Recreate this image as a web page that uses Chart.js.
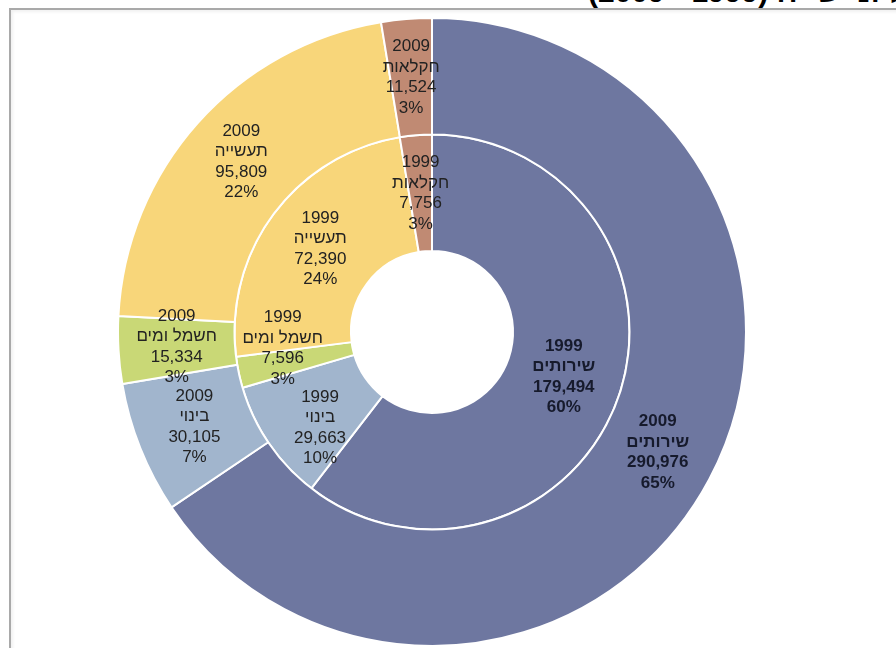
<!DOCTYPE html>
<html lang="he">
<head>
<meta charset="utf-8">
<script src="https://cdn.jsdelivr.net/npm/chart.js@4.4.1/dist/chart.umd.min.js"></script>
<style>
  html, body { margin: 0; padding: 0; width: 896px; height: 648px; overflow: hidden; background: #fff; }
  .title {
    position: absolute; left: 588px; top: -23px; width: 1200px;
    font: bold 30px "Liberation Sans", Arial, sans-serif; line-height: 30px;
    color: #000; white-space: nowrap; text-align: left;
  }
  .frame {
    position: absolute; left: 9px; top: 8px; width: 1000px; height: 1000px;
    border-top: 2px solid #a9a9a9; border-left: 2px solid #a9a9a9;
    box-shadow: inset 2px 2px 3px rgba(0,0,0,0.06);
  }
  #chart { position: absolute; left: 117px; top: 17px; }
</style>
</head>
<body>
<div class="title" dir="rtl">התוצר לפי ענף כלכלי, במיליוני ש״ח (1999 - 2009)</div>
<div class="frame"></div>
<canvas id="chart" width="630" height="630"></canvas>
<script>
/* ---------------------------------------------------------------- *
 * Data: output by sector, 2009 (outer ring) and 1999 (inner ring)
 * ---------------------------------------------------------------- */
const SECTORS = ["שירותים", "בינוי", "חשמל ומים", "תעשייה", "חקלאות"];
const YEARS = ["2009", "1999"];
const VALUES_2009 = [290976, 30105, 15334, 95809, 11524];
const VALUES_1999 = [179494, 29663, 7596, 72390, 7756];
const PCT_2009 = ["65%", "7%", "3%", "22%", "3%"];
const PCT_1999 = ["60%", "10%", "3%", "24%", "3%"];

const COLORS = ["#6e77a0", "#a1b5cd", "#c9d876", "#f8d67a", "#c08a73"];

// Small label nudges (px) for the thin inner slices where the centroid crowds
const NUDGE = { "1-1": [3, 17], "1-2": [-13, -12] };

const FONT = '"Liberation Sans", Arial, sans-serif';

const ringLabels = {
  id: "ringLabels",
  afterDatasetsDraw(chart) {
    const { ctx } = chart;
    const pcts = [PCT_2009, PCT_1999];
    ctx.save();
    ctx.textAlign = "center";
    ctx.textBaseline = "middle";
    chart.data.datasets.forEach((ds, di) => {
      const meta = chart.getDatasetMeta(di);
      meta.data.forEach((arc, i) => {
        const p = arc.tooltipPosition(true);
        const n = NUDGE[di + "-" + i] || [0, 0];
        const x = p.x + n[0], y = p.y + n[1];
        const bold = i === 0;
        ctx.font = (bold ? "bold " : "") + "17px " + FONT;
        ctx.fillStyle = bold ? "#161a2c" : "#222222";
        const lines = [
          YEARS[di],
          SECTORS[i],
          ds.data[i].toLocaleString("en-US"),
          pcts[di][i],
        ];
        const lh = 20.5;
        lines.forEach((t, k) => {
          ctx.fillText(t, x, y + (k - 1.5) * lh);
        });
      });
    });
    ctx.restore();
  },
};

new Chart(document.getElementById("chart"), {
  type: "doughnut",
  data: {
    labels: SECTORS,
    datasets: [
      { label: YEARS[0], data: VALUES_2009, backgroundColor: COLORS,
        borderColor: "#ffffff", borderWidth: 2 },
      { label: YEARS[1], data: VALUES_1999, backgroundColor: COLORS,
        borderColor: "#ffffff", borderWidth: 2 },
    ],
  },
  options: {
    responsive: false,
    animation: false,
    cutout: "25.8%",
    layout: { padding: 0 },
    plugins: { legend: { display: false }, tooltip: { enabled: false } },
  },
  plugins: [ringLabels],
});
</script>
</body>
</html>
